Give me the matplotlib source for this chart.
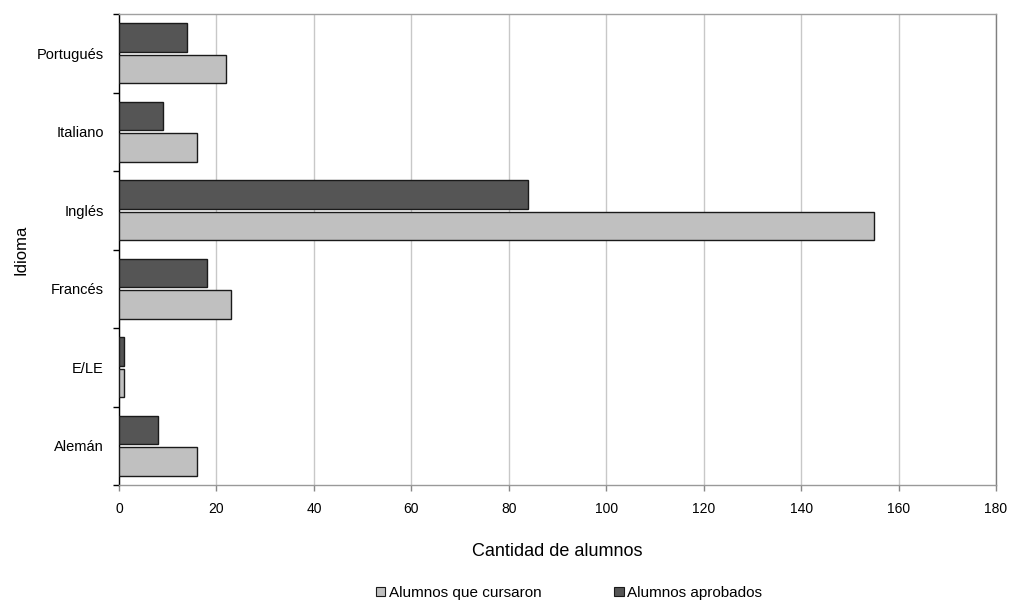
import matplotlib
matplotlib.use("Agg")
import matplotlib.pyplot as plt
import numpy as np
from matplotlib.patches import Patch

plt.rcParams['font.family'] = ['Liberation Sans', 'DejaVu Sans']

categories = ["Alemán", "E/LE", "Francés", "Inglés", "Italiano", "Portugués"]
cursaron = [16, 1, 23, 155, 16, 22]
aprobados = [8, 1, 18, 84, 9, 14]
x_ticks = [0, 20, 40, 60, 80, 100, 120, 140, 160, 180]

fig = plt.figure(figsize=(10.1, 6.03), dpi=100)
ax = fig.add_axes([119/1010, 1-485/603, 877/1010, 471/603])

y = np.arange(len(categories))
h = 0.36
ax.barh(y - 0.2, cursaron, height=h, color="#c0c0c0", edgecolor="#1a1a1a", linewidth=1.0, zorder=3)
ax.barh(y + 0.2, aprobados, height=h, color="#555555", edgecolor="#1a1a1a", linewidth=1.0, zorder=3)

ax.set_xlim(0, 180)
ax.set_ylim(-0.5, len(categories) - 0.5)
ax.set_xticks(x_ticks)
ax.set_xticklabels([str(t) for t in x_ticks], fontsize=10)
ax.set_yticks(y)
ax.set_yticklabels(categories, fontsize=10.5)
ax.set_yticks(np.arange(-0.5, len(categories)), minor=True)
ax.tick_params(axis='y', which='major', length=0, pad=11)
ax.tick_params(axis='y', which='minor', length=4, width=1, color='black', direction='out')
ax.tick_params(axis='x', which='major', length=4, width=1, color='#888888', direction='out', pad=8)

ax.grid(axis='x', color='#c8c8c8', linewidth=1, zorder=0)
ax.spines['left'].set_color('black')
ax.spines['bottom'].set_color('#999999')
ax.spines['top'].set_color('#a0a0a0')
ax.spines['right'].set_color('#808080')
for s in ax.spines.values():
    s.set_linewidth(1)

ax.set_xlabel("Cantidad de alumnos", fontsize=13, labelpad=20)
fig.text(21/1010, 1-250/603, "Idioma", rotation=90, fontsize=12, ha='center', va='center')

handles = [Patch(facecolor="#c0c0c0", edgecolor="#1a1a1a", linewidth=0.8, label="Alumnos que cursaron"),
           Patch(facecolor="#555555", edgecolor="#1a1a1a", linewidth=0.8, label="Alumnos aprobados")]
fig.legend(handles=handles, loc='center', bbox_to_anchor=(569/1010, 1-593/603), ncol=2,
           frameon=False, fontsize=11, handlelength=0.6, handleheight=0.6, handletextpad=0.2,
           columnspacing=4.8)

fig.savefig("out.png", dpi=100)
